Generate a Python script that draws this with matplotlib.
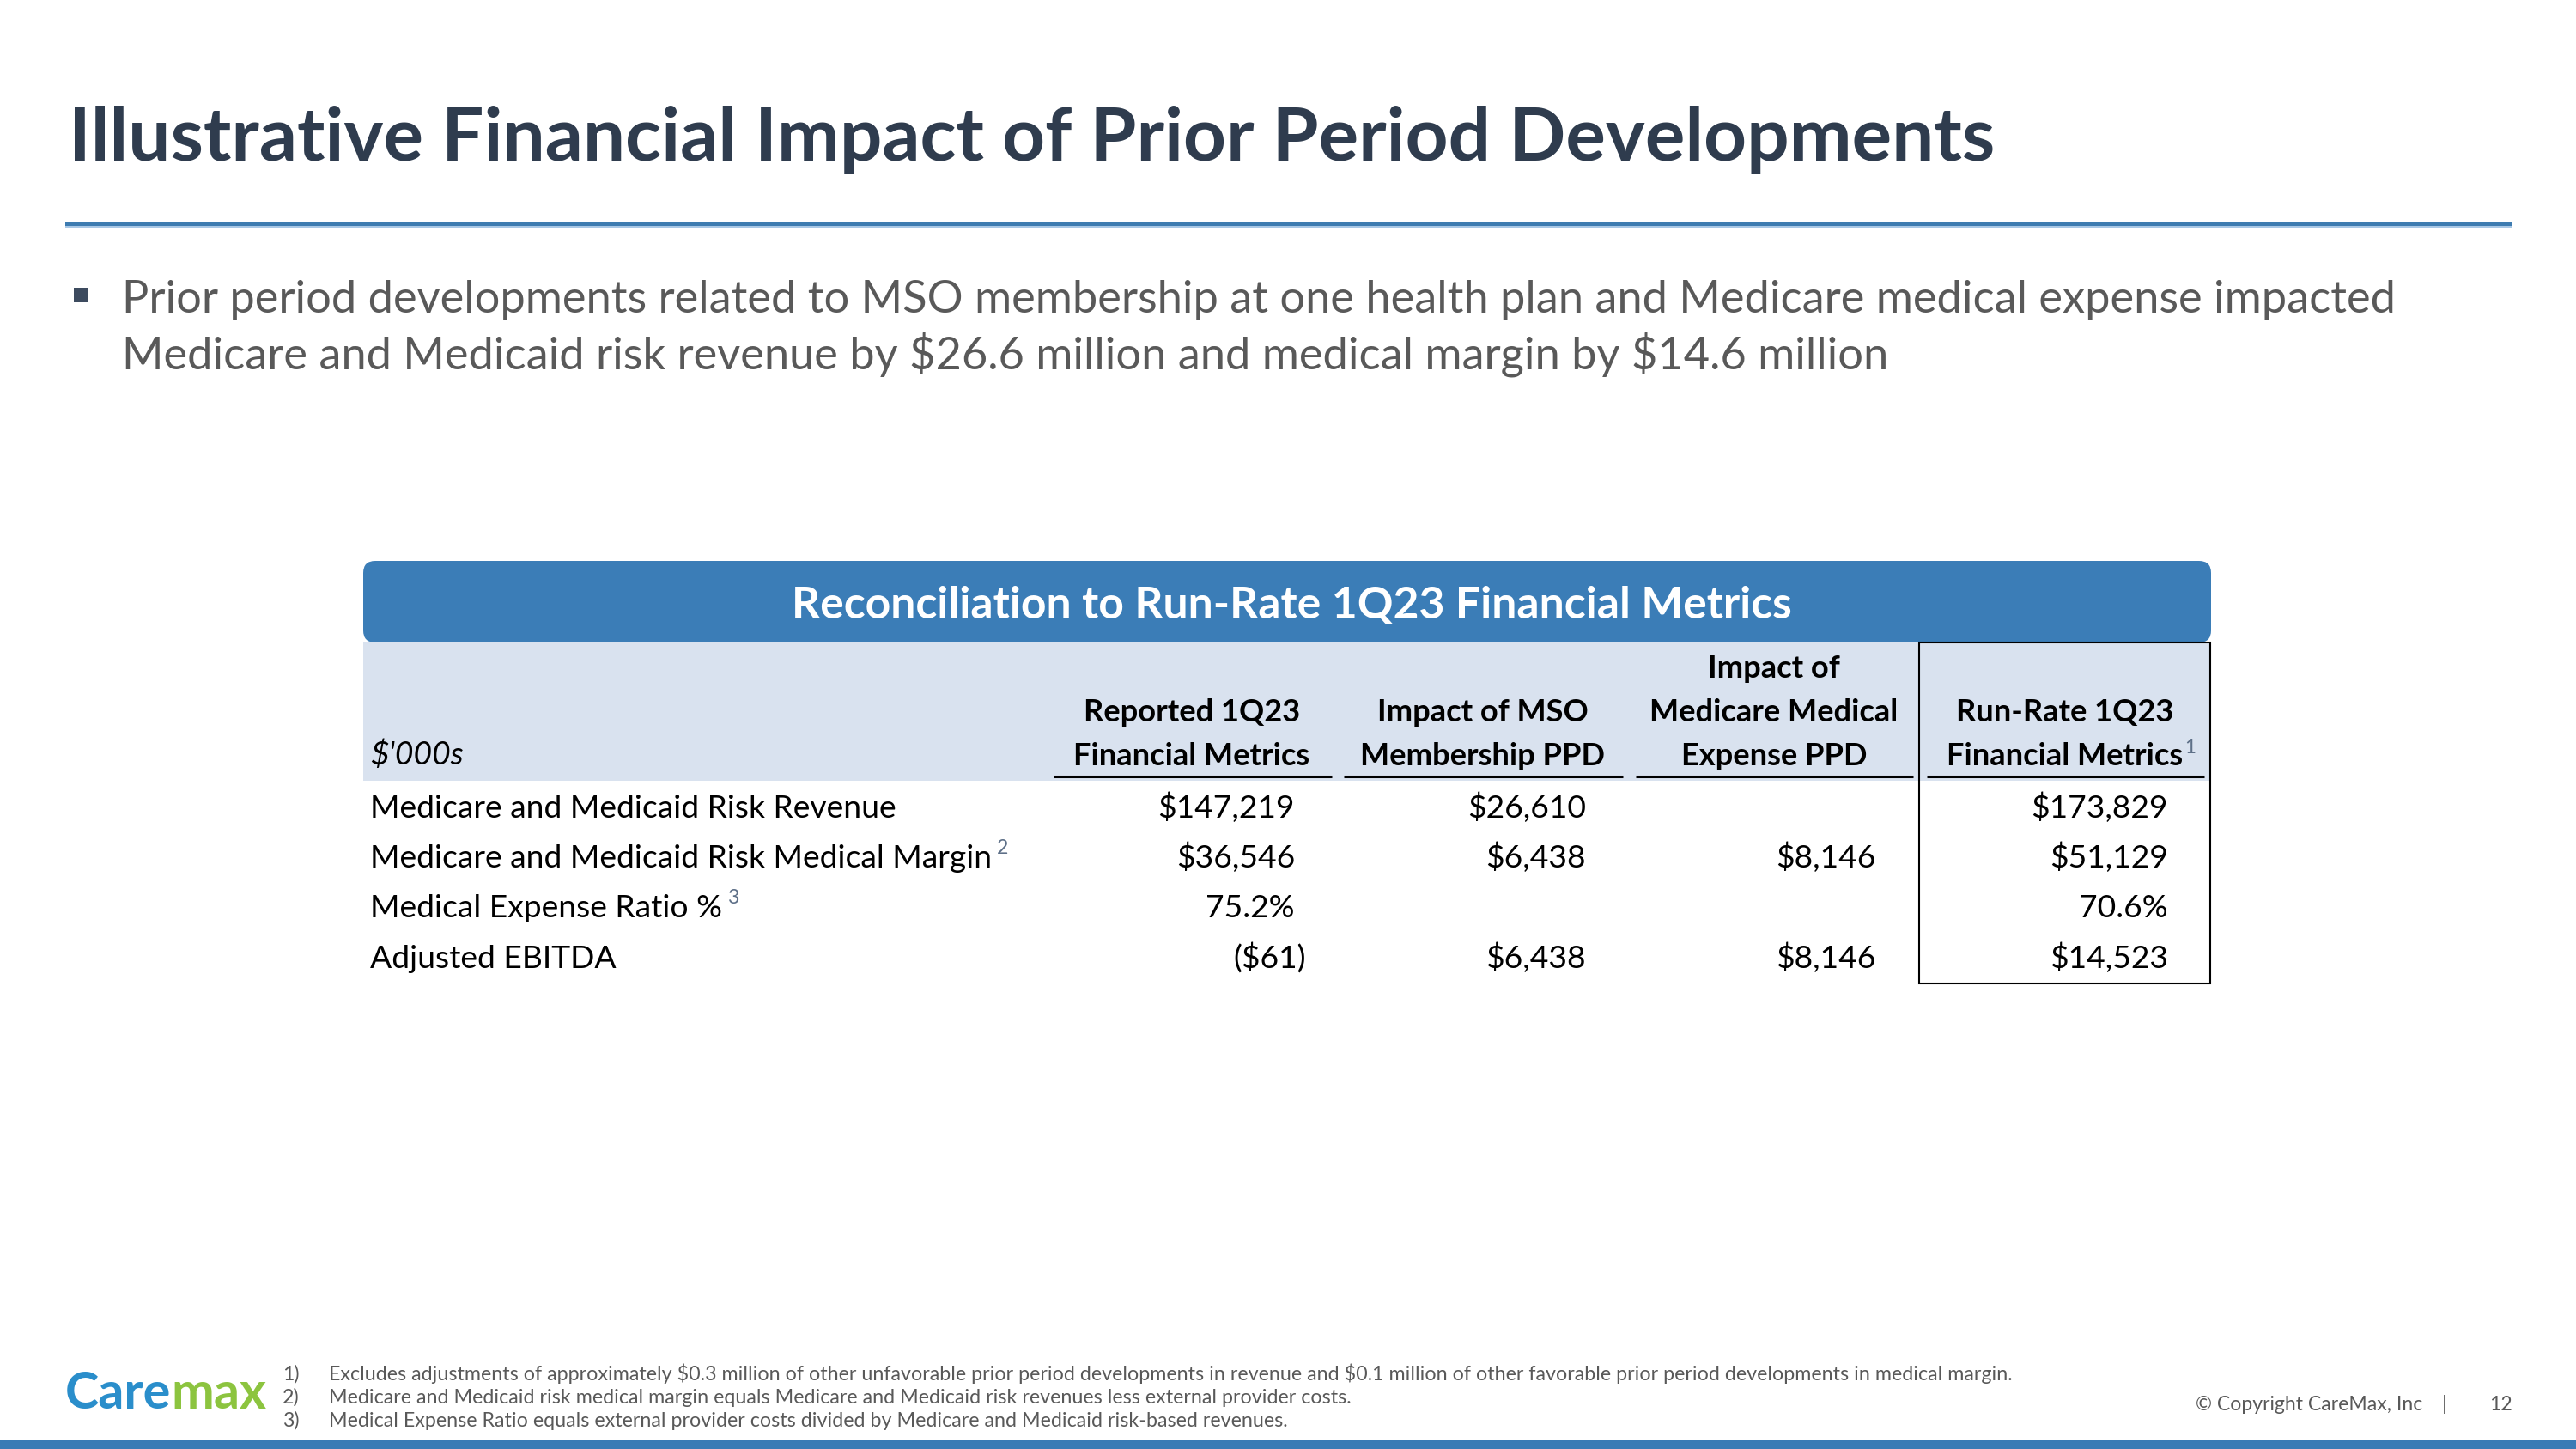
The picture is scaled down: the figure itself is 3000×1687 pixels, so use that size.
import matplotlib
matplotlib.use("Agg")
import matplotlib.pyplot as plt
from matplotlib.patches import Rectangle, FancyBboxPatch

# ---------------- data ----------------
title = "Illustrative Financial Impact of Prior Period Developments"
bullet_lines = [
    "Prior period developments related to MSO membership at one health plan and Medicare medical expense impacted",
    "Medicare and Medicaid risk revenue by $26.6 million and medical margin by $14.6 million",
]
banner_title = "Reconciliation to Run-Rate 1Q23 Financial Metrics"
unit_label = "$'000s"
col_headers = [
    ["Reported 1Q23", "Financial Metrics"],
    ["Impact of MSO", "Membership PPD"],
    ["Impact of", "Medicare Medical", "Expense PPD"],
    ["Run-Rate 1Q23", "Financial Metrics"],
]
col_header_sup = ["", "", "", "1"]
row_labels = [
    "Medicare and Medicaid Risk Revenue",
    "Medicare and Medicaid Risk Medical Margin",
    "Medical Expense Ratio %",
    "Adjusted EBITDA",
]
row_sup = ["", "2", "3", ""]
row_kind = ["$", "$", "%", "$"]
reported = [147219, 36546, 75.2, -61]
impact_mso = [26610, 6438, None, 6438]
impact_medexp = [None, 8146, None, 8146]
run_rate = [173829, 51129, 70.6, 14523]
footnotes = [
    "Excludes adjustments of approximately $0.3 million of other unfavorable prior period developments in revenue and $0.1 million of other favorable prior period developments in medical margin.",
    "Medicare and Medicaid risk medical margin equals Medicare and Medicaid risk revenues less external provider costs.",
    "Medical Expense Ratio equals external provider costs divided by Medicare and Medicaid risk-based revenues.",
]
copyright_text = "\u00a9 Copyright CareMax, Inc"
page_number = "12"
logo_parts = ["Care", "max"]

# ---------------- style ----------------
FONT = "Lato"
TITLE_C = "#2F3C4E"
BODY_C = "#595959"
BLUE = "#3B7DB7"
LIGHT = "#D9E2EF"
SUP_C = "#5E7088"

W, H = 3000, 1687
fig = plt.figure(figsize=(W / 100, H / 100), dpi=100)
ax = fig.add_axes([0, 0, 1, 1])
ax.set_xlim(0, W)
ax.set_ylim(H, 0)
ax.axis("off")
renderer = fig.canvas.get_renderer()


def width_of(t):
    return t.get_window_extent(renderer=renderer).width


def fit(t, target):
    t.set_fontsize(t.get_fontsize() * target / width_of(t))
    return t.get_fontsize()


def right_edge(t):
    bb = t.get_window_extent(renderer=renderer)
    return bb.x1


def txt(x, y, s, size=20, **kw):
    kw.setdefault("family", FONT)
    kw.setdefault("va", "baseline")
    return ax.text(x, y, s, fontsize=size, parse_math=False, **kw)


# ---------------- title & rule ----------------
t = txt(80, 187, title, 60, color=TITLE_C, weight="bold")
fit(t, 2242)
ax.add_patch(Rectangle((76, 258), 2850, 5, color="#3E7CB1", lw=0))
ax.add_patch(Rectangle((76, 263), 2850, 1.5, color="#A9C8E6", lw=0))

# ---------------- bullet ----------------
ax.add_patch(Rectangle((86, 335), 16, 17, color="#3D4B5F", lw=0))
b1 = txt(142, 364, bullet_lines[0], 36, color=BODY_C)
bs = fit(b1, 2647)
txt(142, 430, bullet_lines[1], bs, color=BODY_C)

# ---------------- table banner ----------------
ax.add_patch(FancyBboxPatch((435, 665), 2128, 71,
                            boxstyle="round,pad=12,rounding_size=14",
                            fc=BLUE, ec="none", mutation_aspect=1))
bt = txt(1504, 720, banner_title, 32, color="white", weight="bold", ha="center")
fit(bt, 1166)

# header light fill
ax.add_patch(Rectangle((423, 748), 2151, 161, color=LIGHT, lw=0))

col_center = [1388, 1727, 2066, 2405]
col_right = [1508, 1847, 2185, 2525]
ul_spans = [(1227, 1551), (1565, 1890), (1905, 2228), (2244, 2567)]
header_baselines = [789, 840, 891]

# header font size fitted on "Financial Metrics"
probe = txt(0, -500, "Financial Metrics", 24, weight="bold")
hs = fit(probe, 276)
probe.remove()

for ci, lines in enumerate(col_headers):
    bl = header_baselines[-len(lines):]
    last = None
    for ln, yb in zip(lines, bl):
        last = txt(col_center[ci], yb, ln, hs, color="black", weight="bold", ha="center")
    if col_header_sup[ci]:
        x1 = right_edge(last)
        txt(x1 + 2, yb - 14, col_header_sup[ci], hs * 0.62, color=SUP_C)
    x0, x1 = ul_spans[ci]
    ax.plot([x0, x1], [904, 904], color="black", lw=2.2, solid_capstyle="butt")

# body font size fitted on first row label
probe = txt(0, -500, row_labels[0], 24)
rs = fit(probe, 613)
probe.remove()

txt(431, 890, unit_label, rs, color="black", style="italic")

row_baselines = [952, 1010, 1068, 1127]


def fmt(v, kind):
    if v is None:
        return ""
    if kind == "%":
        return f"{v:.1f}%"
    s = f"${abs(v):,.0f}"
    return f"({s})" if v < 0 else s


columns = [reported, impact_mso, impact_medexp, run_rate]
for ri, lab in enumerate(row_labels):
    yb = row_baselines[ri]
    lt = txt(431, yb, lab, rs, color="black")
    if row_sup[ri]:
        x1 = right_edge(lt)
        txt(x1 + 6, yb - 16, row_sup[ri], rs * 0.62, color=SUP_C)
    for ci, col in enumerate(columns):
        v = col[ri]
        s = fmt(v, row_kind[ri])
        if not s:
            continue
        xr = col_right[ci] + (13 if (v is not None and v < 0) else 0)
        txt(xr, yb, s, rs, color="black", ha="right")

# box around run-rate column
ax.add_patch(Rectangle((2235, 748), 339, 397, fill=False, ec="black", lw=1.5))

# ---------------- footer ----------------
probe = txt(0, -500, "".join(logo_parts), 30, weight="bold")
ls = fit(probe, 234)
probe.remove()
lg1 = txt(76, 1640, logo_parts[0], ls, color="#2A8ECB", weight="bold")
txt(right_edge(lg1), 1640, logo_parts[1], ls, color="#8CC43F", weight="bold")

fn_baselines = [1607, 1634, 1661]
probe = txt(0, -500, footnotes[0], 14)
fs = fit(probe, 1964)
probe.remove()
for i, (fn, yb) in enumerate(zip(footnotes, fn_baselines)):
    txt(329, yb, f"{i + 1})", fs, color=BODY_C)
    txt(383, yb, fn, fs, color=BODY_C)

ct = txt(2557, 1642, copyright_text, 14, color=BODY_C)
cs = fit(ct, 264)
txt(2847, 1642, "|", cs, color=BODY_C, ha="center")
txt(2926, 1642, page_number, cs, color=BODY_C, ha="right")

ax.add_patch(Rectangle((0, 1676), W, 11, color="#3A7BB5", lw=0))

fig.savefig("out.png", dpi=100)
